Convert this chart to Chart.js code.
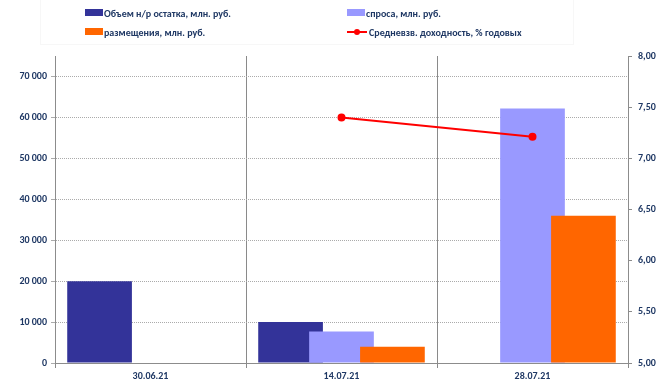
<!DOCTYPE html>
<html>
<head>
<meta charset="utf-8">
<script src="https://cdn.jsdelivr.net/npm/chart.js@4.4.1/dist/chart.umd.min.js"></script>
<style>
    body { margin: 0; background: #fff; }
    #wrap { position: relative; width: 666px; height: 387px; }
    #legend { position: absolute; left: 40px; top: 0; width: 532px; height: 44px; border: 1px solid #f7f7f7; border-top: none; }
    .item { position: absolute; font: bold 10px 'Carlito', 'Liberation Sans Narrow', 'Liberation Sans', sans-serif; color: #1F3864; white-space: nowrap; line-height: 12px; }
    .box { display: inline-block; width: 18px; height: 7px; vertical-align: 1px; margin-right: 1px; }
    .ln { display: inline-block; width: 20px; height: 2px; vertical-align: 3px; margin-right: 2px; position: relative; }
    .ln i { position: absolute; left: 7px; top: -2px; width: 6px; height: 6px; border-radius: 50%; }
</style>
</head>
<body>
<div id="wrap">
    <canvas id="chart" width="666" height="387"></canvas>
    <div id="legend"></div>
</div>
<script>
// Data
const dates = ['30.06.21', '14.07.21', '28.07.21']
const remainder = [20000, 10000, null]      // Объем н/р остатка
const demand = [null, 7700, 62200]          // спроса
const placement = [null, 4000, 36000]       // размещения
const yieldAvg = [null, 7.40, 7.21]         // доходность, % годовых

// Axis ticks
const leftTicks = [0, 10000, 20000, 30000, 40000, 50000, 60000, 70000]
const rightTicks = [5, 5.5, 6, 6.5, 7, 7.5, 8]

const textColor = '#1F3864'
const tickFont = { family: "'Carlito', 'Liberation Sans Narrow', 'Liberation Sans', sans-serif", size: 10, weight: 'bold' }

// Excel-like draw order: later bar overlaps the earlier one
const barOrderPlugin = {
    id: 'barOrder',
    beforeDatasetsDraw(chart) {
        let area = chart.chartArea
        chart.ctx.save()
        chart.ctx.beginPath()
        chart.ctx.rect(area.left, area.top, area.right - area.left, area.bottom - area.top)
        chart.ctx.clip()
        chart.data.datasets.forEach((ds, i) => {
            let meta = chart.getDatasetMeta(i)
            if (meta.type === 'bar') meta.controller.draw()
        })
        chart.ctx.restore()
    },
    beforeDatasetDraw(chart, args) {
        if (args.meta.type === 'bar') return false
    }
}

let fmtThousands = v => String(v).replace(/\B(?=(\d{3})+(?!\d))/g, ' ')

let chart = new Chart(document.getElementById('chart'), {
    type: 'bar',
    data: {
        labels: dates,
        datasets: [
            { label: 'Объем н/р остатка, млн. руб.', data: remainder, backgroundColor: '#333399', yAxisID: 'y' },
            { label: 'спроса, млн. руб.', data: demand, backgroundColor: '#9999FF', yAxisID: 'y' },
            { label: 'размещения, млн. руб.', data: placement, backgroundColor: '#FF6600', yAxisID: 'y' },
            { type: 'line', label: 'Средневзв. доходность, % годовых', data: yieldAvg, yAxisID: 'y1',
              borderColor: '#FF0000', backgroundColor: '#FF0000', borderWidth: 2, pointRadius: 3, spanGaps: true }
        ]
    },
    options: {
        responsive: false,
        animation: false,
        layout: { padding: { top: 56, left: 0, right: 0, bottom: 0 } },
        datasets: { bar: { categoryPercentage: 0.8, barPercentage: 1.27 } },
        plugins: { legend: { display: false }, tooltip: { enabled: false } },
        scales: {
            x: {
                grid: { color: '#8a8a8a', tickLength: 5 },
                border: { color: '#8c8c8c' },
                ticks: { color: textColor, font: tickFont, padding: 2 },
                afterFit: s => { s.height = 24 }
            },
            y: {
                position: 'left',
                min: 0, max: 75000,
                grid: { color: '#ababab', tickLength: 4 },
                border: { color: '#8c8c8c', dash: [1, 1] },
                ticks: { color: textColor, font: tickFont, padding: 4, callback: v => fmtThousands(v) },
                afterBuildTicks: s => { s.ticks = leftTicks.map(v => ({ value: v })) },
                afterFit: s => { s.width = 55 }
            },
            y1: {
                position: 'right',
                min: 5, max: 8,
                grid: { drawOnChartArea: false, color: '#8c8c8c', tickLength: 4 },
                border: { color: '#8c8c8c' },
                ticks: { color: textColor, font: tickFont, padding: 6,
                         callback: v => v.toFixed(2).replace('.', ',') },
                afterBuildTicks: s => { s.ticks = rightTicks.map(v => ({ value: v })) },
                afterFit: s => { s.width = 38 }
            }
        }
    },
    plugins: [barOrderPlugin]
})

// Two-column legend built from the datasets
let legendPos = [[44, 8], [306, 8], [44, 27], [306, 27]]
let legend = document.getElementById('legend')
chart.data.datasets.forEach((ds, i) => {
    let el = document.createElement('div')
    el.className = 'item'
    el.style.left = legendPos[i][0] + 'px'
    el.style.top = legendPos[i][1] + 'px'
    let mark = ds.type === 'line'
        ? `<span class="ln" style="background:${ds.borderColor}"><i style="background:${ds.borderColor}"></i></span>`
        : `<span class="box" style="background:${ds.backgroundColor}"></span>`
    el.innerHTML = mark + ds.label
    legend.appendChild(el)
})
</script>
</body>
</html>
